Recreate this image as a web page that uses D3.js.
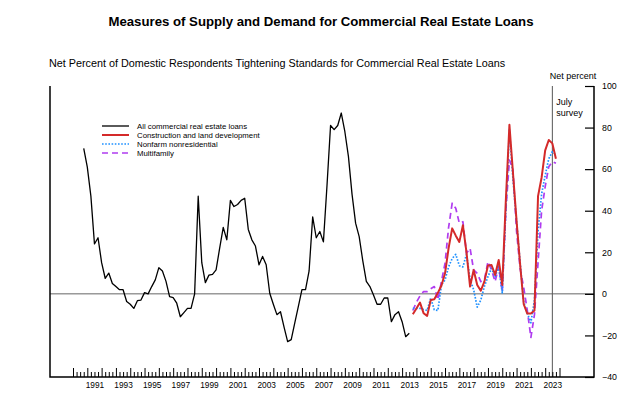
<!DOCTYPE html>
<html>
<head>
<meta charset="utf-8">
<script src="https://cdn.jsdelivr.net/npm/d3@7"></script>
<style>
  body { margin: 0; background: #fff; }
  svg { display: block; font-family: "Liberation Sans", Arial, sans-serif; }
</style>
</head>
<body>
<div id="chart"></div>
<script>
// quarterly survey results, net percent tightening
const allStart = 1990.75;
const allCre = [70, 61, 47, 24, 27, 15, 7.5, 10, 5, 3.5, 2, 2, -3.7, -5, -7, -3.3,
  -3, 0.6, 0, 3.5, 6.7, 12.6, 11, 6, -1.3, -1.8, -4.5, -11, -9, -7, -7, 0,
  47, 15, 5.4, 9, 9.4, 11.5, 22, 32, 26, 45, 42, 43, 45, 46, 31, 26,
  23, 14, 18, 14, 0.3, -5, -10, -8.6, -16, -23, -22, -14, -6, 2, 2, 11,
  37, 27, 30, 25, 52, 81, 79, 81, 87, 78, 66, 48, 34, 27.5, 16, 6,
  3.5, -0.5, -5, -5, -2, -2, -13.4, -10, -8.6, -13.4, -20.6, -19];

const catStart = 2013.75;
const construction = [-9.8, -7, -4.2, -9.3, -10.6, -3, -2.6, 0.5, 4, 9.9, 22, 31.5, 28, 25, 33, 20,
  3.5, 11.5, 4.3, 1.5, 5.9, 13.6, 13.9, 9.1, 16.3, 4.3, 45, 81.3, 58, 35, 14, -5,
  -9.5, -9.5, -8, 47, 56, 69, 74, 72.4, 65];
const nonfarm = [-7, -7, -7, -7.5, -8, -2, -7.7, -8, 4.3, 6.7, 13, 17, 19, 13.5, 13, 19,
  7, 2, -6.4, -3, 3.5, 8.3, 12.3, 8.3, 13, 0.5, 40, 78.9, 55, 35, 15, -4,
  -9.3, -13.9, -3, 30, 48, 57, 65, 68.4, 67];
const multifamily = [-8, -4, -1, 1.1, 1.1, 2.5, 3.5, -2.9, 6, 14.7, 32, 43.6, 41.2, 34, 34.7, 19.5,
  21.9, 11.5, 9.9, 5.9, 6.7, 15.5, 11.5, 5.9, 13.1, 1.1, 40, 64.4, 59.6, 30, 12, 3,
  -8, -21, -10, 15, 40, 51.6, 61.2, 63.6, 62.8];

const yTicks = [-40, -20, 0, 20, 40, 60, 80, 100];
const yearLabels = [1991, 1993, 1995, 1997, 1999, 2001, 2003, 2005, 2007, 2009,
  2011, 2013, 2015, 2017, 2019, 2021, 2023];
const surveyDate = 2023.5;

const seriesInfo = [
  { name: "All commercial real estate loans", values: allCre, start: allStart, color: "#000", width: 1.3, dash: null },
  { name: "Construction and land development", values: construction, start: catStart, color: "#d42a2a", width: 2, dash: null },
  { name: "Nonfarm nonresidential", values: nonfarm, start: catStart, color: "#1e90ff", width: 1.7, dash: "1.6,1.6" },
  { name: "Multifamily", values: multifamily, start: catStart, color: "#b03cf0", width: 1.7, dash: "6,4" }
];

const width = 640, height = 397;
const plot = { left: 50, right: 594, top: 86, bottom: 377 };

const svg = d3.select("#chart").append("svg")
  .attr("width", width)
  .attr("height", height);

const x = d3.scaleLinear().domain([1990, 2024]).range([73, 559.5]);
const y = d3.scaleLinear().domain([-40, 100]).range([plot.bottom, plot.top]);

// titles
svg.append("text")
  .attr("x", 321).attr("y", 26)
  .attr("text-anchor", "middle")
  .style("font-size", "13.2px").style("font-weight", "bold")
  .text("Measures of Supply and Demand for Commercial Real Estate Loans");

svg.append("text")
  .attr("x", 49).attr("y", 67)
  .style("font-size", "10.8px")
  .text("Net Percent of Domestic Respondents Tightening Standards for Commercial Real Estate Loans");

svg.append("text")
  .attr("x", 573).attr("y", 79)
  .attr("text-anchor", "middle")
  .style("font-size", "9px")
  .text("Net percent");

// zero line
svg.append("line")
  .attr("x1", plot.left).attr("x2", plot.right)
  .attr("y1", y(0)).attr("y2", y(0))
  .attr("stroke", "#666").attr("stroke-width", 1);

// survey marker
svg.append("line")
  .attr("x1", x(surveyDate)).attr("x2", x(surveyDate))
  .attr("y1", plot.top).attr("y2", plot.bottom)
  .attr("stroke", "#555").attr("stroke-width", 1);

svg.append("text")
  .attr("x", x(surveyDate) + 4).attr("y", 105)
  .style("font-size", "9px")
  .selectAll("tspan")
  .data(["July", "survey"])
  .join("tspan")
  .attr("x", x(surveyDate) + 4)
  .attr("dy", (d, i) => i ? 11 : 0)
  .text(d => d);

// bottom ticks: quarters and years, pointing up
const quarterTicks = d3.range(1990, 2024.01, 0.25);
svg.append("g")
  .attr("transform", `translate(0,${plot.bottom})`)
  .call(d3.axisBottom(x).tickValues(quarterTicks.filter(d => d % 1 !== 0)).tickSize(-5).tickFormat(""))
  .call(g => g.select(".domain").remove());

svg.append("g")
  .attr("transform", `translate(0,${plot.bottom})`)
  .call(d3.axisBottom(x).tickValues(d3.range(1990, 2025)).tickSize(-9).tickFormat(""))
  .call(g => g.select(".domain").remove());

svg.append("g")
  .attr("transform", `translate(0,${plot.bottom})`)
  .call(d3.axisBottom(x).tickValues(yearLabels.map(d => d + 0.5)).tickSize(0).tickPadding(5).tickFormat(d => Math.floor(d)))
  .call(g => g.select(".domain").remove())
  .call(g => g.selectAll("text").style("font-size", "8.3px").attr("fill", "#000").style("font-family", null));

// right axis
svg.append("g")
  .attr("transform", `translate(${plot.right},0)`)
  .call(d3.axisRight(y).tickValues(yTicks).tickSize(-9).tickPadding(8).tickSizeOuter(0))
  .call(g => g.select(".domain").remove())
  .call(g => g.selectAll("line").attr("stroke-width", 1.2))
  .call(g => g.selectAll("text").style("font-size", "8.8px").attr("fill", "#000").style("font-family", null));

// frame
svg.append("path")
  .attr("d", `M${plot.left},${plot.top}V${plot.bottom}H${plot.right}V${plot.top}`)
  .attr("fill", "none").attr("stroke", "#000").attr("stroke-width", 1.5);

// series
const line = d3.line()
  .x(d => x(d.t))
  .y(d => y(d.v));

const ordered = [seriesInfo[0], seriesInfo[3], seriesInfo[2], seriesInfo[1]];
svg.append("g")
  .selectAll("path")
  .data(ordered)
  .join("path")
  .attr("d", s => line(s.values.map((v, i) => ({ t: s.start + i * 0.25, v }))))
  .attr("fill", "none")
  .attr("stroke", s => s.color)
  .attr("stroke-width", s => s.width)
  .attr("stroke-dasharray", s => s.dash)
  .attr("stroke-linejoin", "round");

// legend
const legend = svg.append("g").attr("transform", "translate(102,126)");
const item = legend.selectAll("g")
  .data(seriesInfo)
  .join("g")
  .attr("transform", (d, i) => `translate(0,${i * 9})`);

item.append("line")
  .attr("x1", 0).attr("x2", 27)
  .attr("stroke", d => d.color)
  .attr("stroke-width", d => d.width)
  .attr("stroke-dasharray", d => d.dash);

item.append("text")
  .attr("x", 35).attr("dy", "0.34em")
  .style("font-size", "7.8px")
  .text(d => d.name);
</script>
</body>
</html>
